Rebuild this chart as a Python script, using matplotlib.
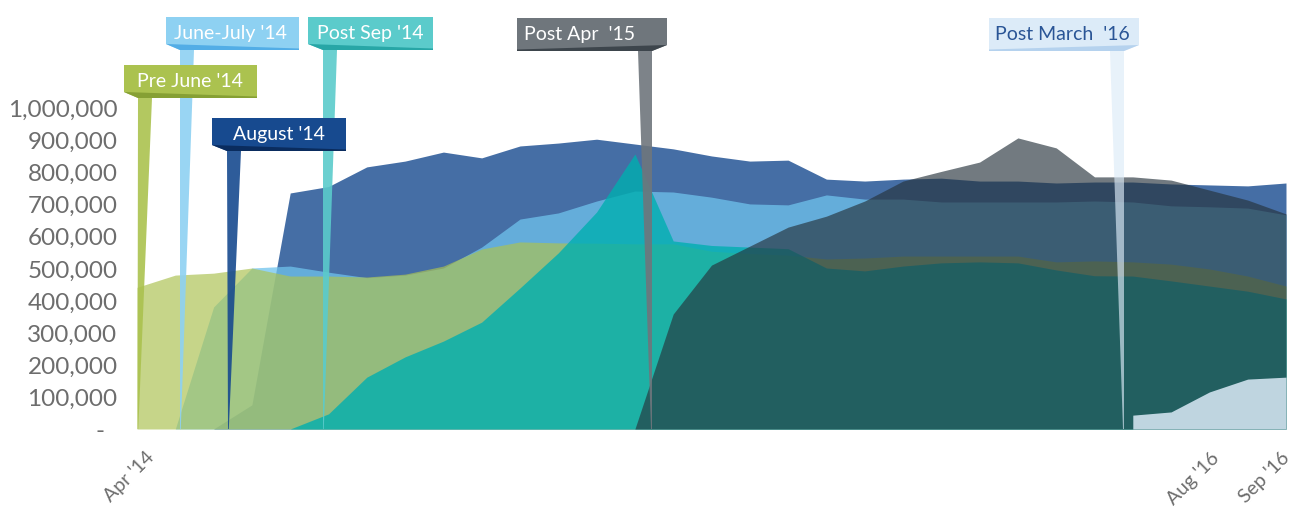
import numpy as np
import matplotlib
matplotlib.use('Agg')
import matplotlib.pyplot as plt
from matplotlib.patches import Polygon
from matplotlib.transforms import Affine2D, ScaledTranslation
from matplotlib.ticker import FuncFormatter

W, H = 1291, 510

# consecutive reporting periods, first one is Apr '14
periods = np.arange(31)
tick_pos = [0, 28, 30]
tick_labels = ["Apr '14", "Aug '16", "Sep '16"]

# values in thousands, None = cohort not started yet
pre_june = [440, 478, 484, 500, 475, 475, 472, 481, 506, 559, 581, 578, 577, 575, 575, 552,
            545, 540, 528, 531, 537, 537, 537, 537, 519, 522, 519, 512, 497, 475, 444]
june_july = [None, 0, 379, 500, 506, 487, 470, 478, 500, 565, 652, 671, 708, 739, 736, 720,
             699, 696, 727, 714, 714, 705, 705, 705, 705, 708, 705, 693, 690, 686, 665]
august = [None, None, 0, 75, 733, 753, 814, 832, 860, 842, 879, 888, 900, 885, 870, 848,
          832, 835, 776, 770, 776, 779, 770, 770, 764, 767, 767, 761, 758, 755, 764]
post_sep = [None] * 4 + [0, 47, 161, 224, 273, 332, 438, 547, 674, 854, 584, 570, 565, 560,
                         500, 491, 506, 516, 519, 516, 494, 476, 475, 460, 444, 428, 404]
post_apr = [None] * 13 + [0, 357, 509, 568, 627, 661, 708, 770, 800, 829, 904, 873, 783,
                          783, 773, 742, 711, 668]
post_march = [None] * 26 + [43, 53, 115, 155, 161]

# drawing order matters, the areas are see-through
series = [
    (august, '#174a8f', 0.80),
    (june_july, '#6fc3ed', 0.75),
    (pre_june, '#abc252', 0.68),
    (post_sep, '#00afb0', 0.80),
    (post_apr, '#26333c', 0.65),
    (post_march, '#dcebf8', 0.85),
]

plt.rcParams['font.family'] = ['Lato', 'DejaVu Sans']

fig = plt.figure(figsize=(W / 100, H / 100), dpi=100)
ax = fig.add_axes([137 / W, 80 / H, 1149 / W, 322 / H])

for i, (vals, color, alpha) in enumerate(series):
    y = np.array([np.nan if v is None else v * 1000 for v in vals])
    ok = ~np.isnan(y)
    ax.fill_between(periods[ok], 0, y[ok], color=color, alpha=alpha, lw=0, zorder=2 + i)

ax.set_xlim(0, 30)
ax.set_ylim(0, 1_000_000)
ax.set_yticks(np.arange(0, 1_000_001, 100_000))
ax.yaxis.set_major_formatter(FuncFormatter(lambda v, p: '-  ' if v == 0 else f'{v:,.0f}'))
ax.set_xticks(tick_pos)
ax.set_xticklabels(tick_labels)
ax.tick_params(axis='y', length=0, pad=14, labelsize=17.5, labelcolor='#6d6d6d')
ax.tick_params(axis='x', length=0, pad=18, labelsize=14, labelcolor='#6d6d6d')
# small nudges so the slanted labels end where the original ones do
nudges = [14, 7, 1]
for lab, dx in zip(ax.get_xticklabels(), nudges):
    lab.set_rotation(45)
    lab.set_ha('right')
    lab.set_va('center')
    lab.set_rotation_mode('anchor')
    lab.set_transform(lab.get_transform() + ScaledTranslation(dx / 100, 0, fig.dpi_scale_trans))
for s in ax.spines.values():
    s.set_visible(False)

# callout flags, drawn in reference pixel coordinates (origin top-left)
px = Affine2D().scale(1 / W, -1 / H).translate(0, 1) + fig.transFigure
base = 430

flags = [
    # text, box x0, y0, x1, y1, pole left, pole right, tip, side, face, fold, text colour, text x
    ("Pre June '14", 124, 66, 257, 99, 138, 152, 137.5, 'left', '#abc24f', '#86a034', 'white', 190),
    ("June-July '14", 166, 18, 299, 51, 180, 194, 180, 'left', '#8ed1f2', '#52ade6', 'white', 230),
    ("August '14", 212, 119, 346, 152, 227, 241, 228, 'left', '#174a8f', '#0a2c5e', 'white', 279),
    ("Post Sep '14", 308, 18, 433, 51, 323, 337, 323, 'left', '#5bcbcb', '#27a6a6', 'white', 370),
    ("Post Apr  '15", 517, 19, 667, 52, 638, 652, 652, 'right', '#6f767c', '#3d454c', 'white', 580),
    ("Post March  '16", 989, 19, 1139, 52, 1110, 1124, 1124, 'right', '#dcebf8', '#b5d2ee', '#2a5596', 1062),
]

for i, (txt, x0, y0, x1, y1, pl, pr, tip, side, face, fold, tc, tx) in enumerate(flags):
    z = 20 + i
    if side == 'left':
        pole = [(pl, y1), (pr, y1), (tip + 0.8, base), (tip, base)]
        box = [(x0, y0), (x1, y0), (x1, y1), (pl, y1), (x0, y1 - 6)]
        crease = [(x0, y1 - 6), (x1, y1 - 1.5), (x1, y1), (pl, y1)]
    else:
        pole = [(pl, y1), (pr, y1), (tip, base), (tip - 0.8, base)]
        box = [(x0, y0), (x1, y0), (x1, y1 - 6), (pr, y1), (x0, y1)]
        crease = [(x1, y1 - 6), (x0, y1 - 1.5), (x0, y1), (pr, y1)]
    pa = 0.65 if face == '#dcebf8' else 0.9
    fig.add_artist(Polygon(pole, closed=True, transform=px, fc=face, ec='none', alpha=pa, zorder=z))
    fig.add_artist(Polygon(box, closed=True, transform=px, fc=face, ec='none', zorder=z + 10))
    fig.add_artist(Polygon(crease, closed=True, transform=px, fc=fold, ec='none', zorder=z + 10))
    fig.text(tx, (y0 + y1) / 2 - 1, txt, transform=px, ha='center', va='center',
             fontsize=14, color=tc, zorder=z + 11)

fig.savefig('out.png', dpi=100)
